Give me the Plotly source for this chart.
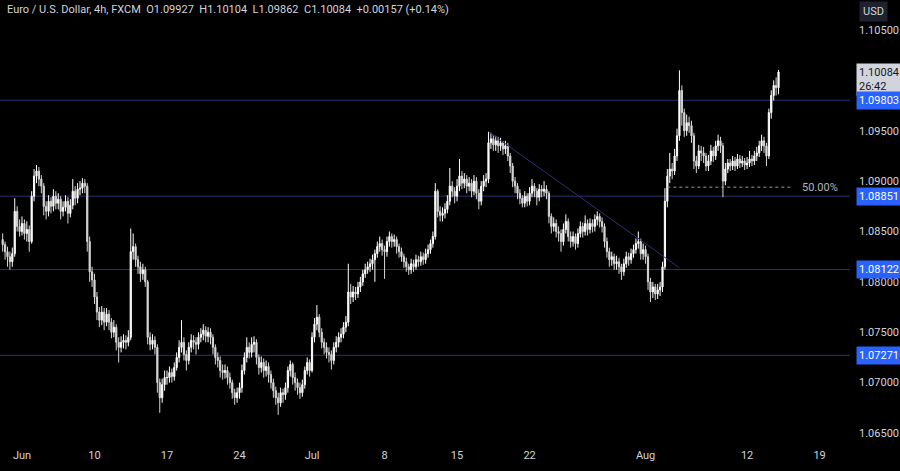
import pandas as pd
import plotly.graph_objects as go

# ---------------- data (EUR/USD 4h, FXCM) ----------------
first_open = 1.0842
closes = [
    1.0837, 1.0830,                                     # May 30 (16h, 20h)
    1.0825, 1.0820, 1.0828, 1.0870, 1.0855, 1.0850,     # May 31
    1.0858, 1.0848, 1.0852, 1.0840, 1.0885, 1.0905,     # Jun 3
    1.0910, 1.0902, 1.0895, 1.0875, 1.0870, 1.0880,     # Jun 4
    1.0875, 1.0885, 1.0878, 1.0882, 1.0870, 1.0874,     # Jun 5
    1.0880, 1.0868, 1.0876, 1.0890, 1.0883, 1.0892,     # Jun 6
    1.0893, 1.0898, 1.0895, 1.0840, 1.0810, 1.0802,     # Jun 7
    1.0785, 1.0770, 1.0762, 1.0770, 1.0760, 1.0768,     # Jun 10
    1.0760, 1.0750, 1.0755, 1.0740, 1.0735, 1.0740,     # Jun 11
    1.0742, 1.0740, 1.0745, 1.0830, 1.0835, 1.0822,     # Jun 12
    1.0815, 1.0808, 1.0812, 1.0800, 1.0745, 1.0738,     # Jun 13
    1.0742, 1.0735, 1.0700, 1.0685, 1.0698, 1.0705,     # Jun 14
    1.0705, 1.0710, 1.0706, 1.0715, 1.0725, 1.0735,     # Jun 17
    1.0740, 1.0728, 1.0722, 1.0735, 1.0742, 1.0740,     # Jun 18
    1.0738, 1.0745, 1.0748, 1.0752, 1.0746, 1.0750,     # Jun 19
    1.0745, 1.0735, 1.0725, 1.0722, 1.0712, 1.0710,     # Jun 20
    1.0712, 1.0705, 1.0700, 1.0690, 1.0685, 1.0690,     # Jun 21
    1.0695, 1.0712, 1.0725, 1.0735, 1.0730, 1.0738,     # Jun 24
    1.0740, 1.0725, 1.0715, 1.0720, 1.0712, 1.0716,     # Jun 25
    1.0708, 1.0700, 1.0692, 1.0685, 1.0680, 1.0690,     # Jun 26
    1.0688, 1.0695, 1.0712, 1.0718, 1.0705, 1.0700,     # Jun 27
    1.0695, 1.0690, 1.0698, 1.0712, 1.0720, 1.0712,     # Jun 28
    1.0745, 1.0758, 1.0765, 1.0750, 1.0740, 1.0735,     # Jul 1
    1.0730, 1.0728, 1.0722, 1.0735, 1.0740, 1.0745,     # Jul 2
    1.0748, 1.0755, 1.0760, 1.0790, 1.0785, 1.0790,     # Jul 3
    1.0788, 1.0795, 1.0800, 1.0808, 1.0812, 1.0815,     # Jul 4
    1.0818, 1.0822, 1.0828, 1.0835, 1.0838, 1.0832,     # Jul 5
    1.0830, 1.0840, 1.0845, 1.0840, 1.0842, 1.0835,     # Jul 8
    1.0830, 1.0825, 1.0820, 1.0815, 1.0812, 1.0818,     # Jul 9
    1.0815, 1.0822, 1.0820, 1.0825, 1.0822, 1.0828,     # Jul 10
    1.0832, 1.0838, 1.0845, 1.0890, 1.0870, 1.0866,     # Jul 11
    1.0868, 1.0872, 1.0880, 1.0895, 1.0890, 1.0885,     # Jul 12
    1.0895, 1.0905, 1.0898, 1.0902, 1.0895, 1.0898,     # Jul 15
    1.0890, 1.0900, 1.0888, 1.0880, 1.0895, 1.0900,     # Jul 16
    1.0902, 1.0938, 1.0942, 1.0936, 1.0940, 1.0935,     # Jul 17
    1.0938, 1.0932, 1.0935, 1.0925, 1.0915, 1.0900,     # Jul 18
    1.0895, 1.0888, 1.0883, 1.0878, 1.0885, 1.0880,     # Jul 19
    1.0888, 1.0895, 1.0890, 1.0884, 1.0892, 1.0890,     # Jul 22
    1.0892, 1.0888, 1.0865, 1.0855, 1.0858, 1.0850,     # Jul 23
    1.0848, 1.0840, 1.0852, 1.0860, 1.0845, 1.0840,     # Jul 24
    1.0845, 1.0838, 1.0848, 1.0855, 1.0850, 1.0858,     # Jul 25
    1.0852, 1.0858, 1.0855, 1.0862, 1.0865, 1.0860,     # Jul 26
    1.0855, 1.0840, 1.0830, 1.0822, 1.0825, 1.0818,     # Jul 29
    1.0820, 1.0815, 1.0810, 1.0818, 1.0825, 1.0822,     # Jul 30
    1.0828, 1.0832, 1.0838, 1.0840, 1.0828, 1.0832,     # Jul 31
    1.0825, 1.0800, 1.0790, 1.0795, 1.0788, 1.0792,     # Aug 1
    1.0795, 1.0815, 1.0880, 1.0905, 1.0912, 1.0910,     # Aug 2
    1.0925, 1.0945, 1.0990, 1.0968, 1.0950, 1.0958,     # Aug 5
    1.0955, 1.0945, 1.0920, 1.0915, 1.0930, 1.0928,     # Aug 6
    1.0925, 1.0915, 1.0920, 1.0930, 1.0925, 1.0935,     # Aug 7
    1.0940, 1.0935, 1.0900, 1.0912, 1.0918, 1.0915,     # Aug 8
    1.0920, 1.0915, 1.0922, 1.0918, 1.0920, 1.0916,     # Aug 9
    1.0918, 1.0922, 1.0920, 1.0925, 1.0928, 1.0935,     # Aug 12
    1.0940, 1.0935, 1.0925, 1.0968, 1.0985, 1.0995,     # Aug 13
    1.09927, 1.10084,                                   # Aug 14 (00h, 04h)
]
highs = [
    1.0848, 1.0840,
    1.0835, 1.0830, 1.0834, 1.0883, 1.0875, 1.0862,
    1.0865, 1.0862, 1.0860, 1.0856, 1.0890, 1.0912,
    1.0916, 1.0914, 1.0906, 1.0898, 1.0880, 1.0886,
    1.0884, 1.0892, 1.0890, 1.0888, 1.0885, 1.0880,
    1.0886, 1.0884, 1.0882, 1.0902, 1.0895, 1.0898,
    1.0900, 1.0903, 1.0902, 1.0898, 1.0845, 1.0815,
    1.0808, 1.0790, 1.0775, 1.0776, 1.0774, 1.0774,
    1.0772, 1.0764, 1.0762, 1.0758, 1.0745, 1.0746,
    1.0748, 1.0747, 1.0752, 1.0853, 1.0848, 1.0838,
    1.0826, 1.0820, 1.0818, 1.0815, 1.0802, 1.0750,
    1.0748, 1.0746, 1.0738, 1.0704, 1.0704, 1.0712,
    1.0712, 1.0716, 1.0714, 1.0720, 1.0730, 1.0742,
    1.0762, 1.0745, 1.0732, 1.0740, 1.0748, 1.0747,
    1.0745, 1.0750, 1.0754, 1.0758, 1.0756, 1.0755,
    1.0754, 1.0748, 1.0738, 1.0730, 1.0726, 1.0718,
    1.0718, 1.0716, 1.0710, 1.0703, 1.0694, 1.0695,
    1.0700, 1.0718, 1.0730, 1.0745, 1.0740, 1.0745,
    1.0746, 1.0743, 1.0728, 1.0726, 1.0724, 1.0722,
    1.0720, 1.0712, 1.0704, 1.0696, 1.0690, 1.0695,
    1.0694, 1.0700, 1.0716, 1.0722, 1.0720, 1.0710,
    1.0704, 1.0700, 1.0703, 1.0716, 1.0725, 1.0723,
    1.0750, 1.0764, 1.0777, 1.0768, 1.0754, 1.0744,
    1.0740, 1.0735, 1.0732, 1.0740, 1.0746, 1.0750,
    1.0754, 1.0760, 1.0766, 1.0818, 1.0798, 1.0796,
    1.0795, 1.0800, 1.0805, 1.0812, 1.0818, 1.0820,
    1.0823, 1.0827, 1.0832, 1.0840, 1.0845, 1.0842,
    1.0836, 1.0845, 1.0850, 1.0848, 1.0847, 1.0845,
    1.0838, 1.0834, 1.0828, 1.0824, 1.0818, 1.0823,
    1.0822, 1.0827, 1.0826, 1.0830, 1.0829, 1.0833,
    1.0837, 1.0842, 1.0850, 1.0898, 1.0892, 1.0875,
    1.0874, 1.0878, 1.0886, 1.0913, 1.0900, 1.0894,
    1.0902, 1.0922, 1.0910, 1.0908, 1.0906, 1.0904,
    1.0902, 1.0906, 1.0904, 1.0892, 1.0900, 1.0906,
    1.0908, 1.0949, 1.0948, 1.0946, 1.0945, 1.0944,
    1.0943, 1.0940, 1.0940, 1.0938, 1.0928, 1.0918,
    1.0904, 1.0898, 1.0892, 1.0886, 1.0890, 1.0888,
    1.0894, 1.0902, 1.0898, 1.0893, 1.0897, 1.0896,
    1.0900, 1.0896, 1.0890, 1.0868, 1.0864, 1.0862,
    1.0855, 1.0852, 1.0858, 1.0867, 1.0863, 1.0850,
    1.0850, 1.0848, 1.0853, 1.0860, 1.0859, 1.0866,
    1.0862, 1.0863, 1.0862, 1.0867, 1.0870, 1.0868,
    1.0864, 1.0858, 1.0844, 1.0834, 1.0830, 1.0828,
    1.0826, 1.0824, 1.0818, 1.0823, 1.0830, 1.0829,
    1.0833, 1.0837, 1.0843, 1.0850, 1.0843, 1.0838,
    1.0836, 1.0828, 1.0804, 1.0800, 1.0798, 1.0798,
    1.0800, 1.0820, 1.0893, 1.0912, 1.0928, 1.0918,
    1.0932, 1.0952, 1.1010, 1.0995, 1.0972, 1.0966,
    1.0964, 1.0960, 1.0948, 1.0925, 1.0936, 1.0935,
    1.0934, 1.0928, 1.0926, 1.0936, 1.0934, 1.0940,
    1.0946, 1.0944, 1.0938, 1.0918, 1.0922, 1.0922,
    1.0925, 1.0924, 1.0927, 1.0926, 1.0925, 1.0923,
    1.0924, 1.0930, 1.0926, 1.0930, 1.0934, 1.0940,
    1.0946, 1.0944, 1.0938, 1.0972, 1.0990, 1.1000,
    1.1003, 1.10104,
]
lows = [
    1.0830, 1.0822,
    1.0815, 1.0812, 1.0815, 1.0825, 1.0850, 1.0845,
    1.0846, 1.0842, 1.0840, 1.0830, 1.0838, 1.0880,
    1.0898, 1.0895, 1.0888, 1.0866, 1.0862, 1.0865,
    1.0868, 1.0870, 1.0872, 1.0872, 1.0862, 1.0865,
    1.0870, 1.0858, 1.0864, 1.0872, 1.0876, 1.0878,
    1.0886, 1.0888, 1.0888, 1.0830, 1.0800, 1.0795,
    1.0778, 1.0762, 1.0755, 1.0757, 1.0752, 1.0756,
    1.0752, 1.0744, 1.0745, 1.0732, 1.0720, 1.0730,
    1.0734, 1.0733, 1.0736, 1.0742, 1.0822, 1.0815,
    1.0808, 1.0800, 1.0802, 1.0795, 1.0738, 1.0732,
    1.0733, 1.0728, 1.0690, 1.0670, 1.0680, 1.0692,
    1.0698, 1.0700, 1.0700, 1.0702, 1.0712, 1.0720,
    1.0730, 1.0722, 1.0712, 1.0718, 1.0730, 1.0733,
    1.0728, 1.0733, 1.0740, 1.0742, 1.0740, 1.0740,
    1.0738, 1.0728, 1.0718, 1.0715, 1.0705, 1.0703,
    1.0704, 1.0698, 1.0694, 1.0684, 1.0678, 1.0680,
    1.0684, 1.0690, 1.0708, 1.0720, 1.0724, 1.0725,
    1.0730, 1.0718, 1.0708, 1.0710, 1.0705, 1.0706,
    1.0700, 1.0694, 1.0685, 1.0678, 1.0668, 1.0676,
    1.0680, 1.0683, 1.0690, 1.0706, 1.0698, 1.0692,
    1.0688, 1.0684, 1.0686, 1.0694, 1.0708, 1.0706,
    1.0710, 1.0740, 1.0752, 1.0745, 1.0734, 1.0728,
    1.0724, 1.0720, 1.0713, 1.0718, 1.0730, 1.0735,
    1.0740, 1.0744, 1.0750, 1.0756, 1.0778, 1.0780,
    1.0782, 1.0784, 1.0790, 1.0796, 1.0804, 1.0808,
    1.0810, 1.0812, 1.0800, 1.0824, 1.0830, 1.0826,
    1.0803, 1.0825, 1.0835, 1.0834, 1.0835, 1.0828,
    1.0824, 1.0820, 1.0814, 1.0810, 1.0807, 1.0808,
    1.0810, 1.0812, 1.0815, 1.0816, 1.0817, 1.0818,
    1.0824, 1.0828, 1.0834, 1.0842, 1.0864, 1.0860,
    1.0860, 1.0863, 1.0868, 1.0876, 1.0884, 1.0878,
    1.0880, 1.0890, 1.0892, 1.0893, 1.0888, 1.0890,
    1.0884, 1.0886, 1.0882, 1.0872, 1.0876, 1.0890,
    1.0894, 1.0898, 1.0932, 1.0930, 1.0930, 1.0928,
    1.0930, 1.0926, 1.0927, 1.0920, 1.0908, 1.0894,
    1.0888, 1.0882, 1.0877, 1.0874, 1.0874, 1.0875,
    1.0876, 1.0884, 1.0884, 1.0876, 1.0880, 1.0884,
    1.0885, 1.0882, 1.0858, 1.0848, 1.0850, 1.0844,
    1.0840, 1.0830, 1.0836, 1.0848, 1.0840, 1.0834,
    1.0835, 1.0832, 1.0834, 1.0844, 1.0844, 1.0846,
    1.0846, 1.0848, 1.0849, 1.0850, 1.0856, 1.0854,
    1.0849, 1.0834, 1.0824, 1.0815, 1.0816, 1.0812,
    1.0812, 1.0808, 1.0802, 1.0806, 1.0814, 1.0816,
    1.0818, 1.0824, 1.0828, 1.0833, 1.0822, 1.0822,
    1.0818, 1.0792, 1.0780, 1.0784, 1.0782, 1.0783,
    1.0786, 1.0790, 1.0812, 1.0874, 1.0898, 1.0902,
    1.0906, 1.0920, 1.0940, 1.0955, 1.0944, 1.0945,
    1.0948, 1.0938, 1.0912, 1.0908, 1.0912, 1.0920,
    1.0918, 1.0910, 1.0910, 1.0916, 1.0919, 1.0921,
    1.0930, 1.0928, 1.0884, 1.0896, 1.0908, 1.0910,
    1.0911, 1.0910, 1.0912, 1.0913, 1.0914, 1.0911,
    1.0912, 1.0914, 1.0915, 1.0916, 1.0920, 1.0924,
    1.0930, 1.0928, 1.0915, 1.0922, 1.0962, 1.0980,
    1.0985, 1.09862,
]
opens = [first_open] + closes[:-1]

# bar timestamps: 4h bars, Mon-Fri, from May 30 16:00 to Aug 14 04:00
days = pd.bdate_range("2024-05-30", "2024-08-14")
times = [d + pd.Timedelta(hours=h) for d in days for h in range(0, 24, 4)][4:-4]

levels = [1.09803, 1.08851, 1.08122, 1.07271]
level_labels = ["1.09803", "1.08851", "1.08122", "1.07271"]

price_ticks = [1.065, 1.070, 1.075, 1.080, 1.085, 1.090, 1.095, 1.105]
price_tick_text = ["1.06500", "1.07000", "1.07500", "1.08000", "1.08500",
                   "1.09000", "1.09500", "1.10500"]

tick_dates = ["2024-06-03", "2024-06-10", "2024-06-17", "2024-06-24", "2024-07-01",
              "2024-07-08", "2024-07-15", "2024-07-22", "2024-08-01", "2024-08-12",
              "2024-08-19"]
tick_text = ["Jun", "10", "17", "24", "Jul", "8", "15", "22", "Aug", "12", "19"]

trend_start = ("2024-07-17 04:00", 1.0949)
trend_end = ("2024-08-05 08:00", 1.0814)
fib_level = 1.0894
fib_start, fib_end = "2024-08-02 12:00", "2024-08-15 04:00"

header = ("Euro / U.S. Dollar, 4h, FXCM  O1.09927  H1.10104  L1.09862  "
          "C1.10084  +0.00157 (+0.14%)")

# ---------------- figure ----------------
BG = "#000000"
LINE = "#2b3174"
TXT = "#d1d4dc"
FONT = "Roboto"

fig = go.Figure(go.Candlestick(
    x=times, open=opens, high=highs, low=lows, close=closes,
    increasing=dict(line=dict(color="#ffffff", width=1), fillcolor="#ffffff"),
    decreasing=dict(line=dict(color="#d6d6d6", width=1), fillcolor="#d6d6d6"),
    whiskerwidth=0, hoverinfo="skip", showlegend=False,
))

shapes = []
for lv in levels:
    shapes.append(dict(type="line", xref="paper", x0=0, x1=1, yref="y", y0=lv, y1=lv,
                       line=dict(color=LINE, width=1), layer="below"))
shapes.append(dict(type="line", xref="x", yref="y",
                   x0=trend_start[0], y0=trend_start[1], x1=trend_end[0], y1=trend_end[1],
                   line=dict(color=LINE, width=1)))
shapes.append(dict(type="line", xref="x", yref="y", x0=fib_start, x1=fib_end,
                   y0=fib_level, y1=fib_level, line=dict(color="#9598a1", width=1, dash="dot")))

annotations = [
    dict(xref="paper", yref="paper", x=0, y=1, xanchor="left", yanchor="top",
         xshift=5, yshift=-1, text=header, showarrow=False,
         font=dict(family=FONT, size=11, color=TXT)),
    dict(xref="x", yref="y", x="2024-08-15 16:00", y=fib_level, xanchor="left",
         yanchor="middle", text="50.00%", showarrow=False,
         font=dict(family=FONT, size=11, color="#b2b5be")),
    dict(xref="paper", yref="paper", x=1, y=1, xanchor="left", yanchor="top",
         xshift=9, yshift=-1, text="USD", showarrow=False, bgcolor="#1e222d",
         borderpad=3, font=dict(family=FONT, size=11, color=TXT)),
    dict(xref="paper", yref="y", x=1, y=closes[-1], xanchor="left", yanchor="top",
         xshift=6, yshift=9, text=f"{closes[-1]:.5f}<br>26:42", align="left",
         showarrow=False, bgcolor="#d1d4dc", borderpad=2,
         font=dict(family=FONT, size=11, color="#131722")),
]
for lv, lab in zip(levels, level_labels):
    annotations.append(dict(xref="paper", yref="y", x=1, y=lv, xanchor="left",
                            yanchor="middle", xshift=6, text=lab, showarrow=False,
                            bgcolor="#2962ff", borderpad=2,
                            font=dict(family=FONT, size=11, color="#ffffff")))

fig.update_layout(
    width=900, height=471,
    margin=dict(l=0, r=50, t=0, b=24),
    paper_bgcolor=BG, plot_bgcolor=BG,
    font=dict(family=FONT, size=11, color=TXT),
    shapes=shapes, annotations=annotations,
    showlegend=False,
    xaxis=dict(
        type="date",
        range=["2024-05-30 11:36", "2024-08-21 02:17"],
        rangebreaks=[dict(bounds=["sat", "mon"])],
        rangeslider=dict(visible=False),
        tickmode="array", tickvals=tick_dates, ticktext=tick_text,
        showgrid=False, zeroline=False, showline=False, ticks="",
        tickfont=dict(family=FONT, size=11, color=TXT),
    ),
    yaxis=dict(
        side="right", range=[1.06361, 1.107978],
        tickmode="array", tickvals=price_ticks, ticktext=price_tick_text,
        showgrid=False, zeroline=False, showline=False, ticks="",
        ticklabelstandoff=8,
        tickfont=dict(family=FONT, size=11, color=TXT),
    ),
)

fig.write_html(
    "out.html",
    config={"displayModeBar": False},
    post_script="document.body.style.margin='0';document.body.style.overflow='hidden';"
                "document.body.style.background='#000';",
)
